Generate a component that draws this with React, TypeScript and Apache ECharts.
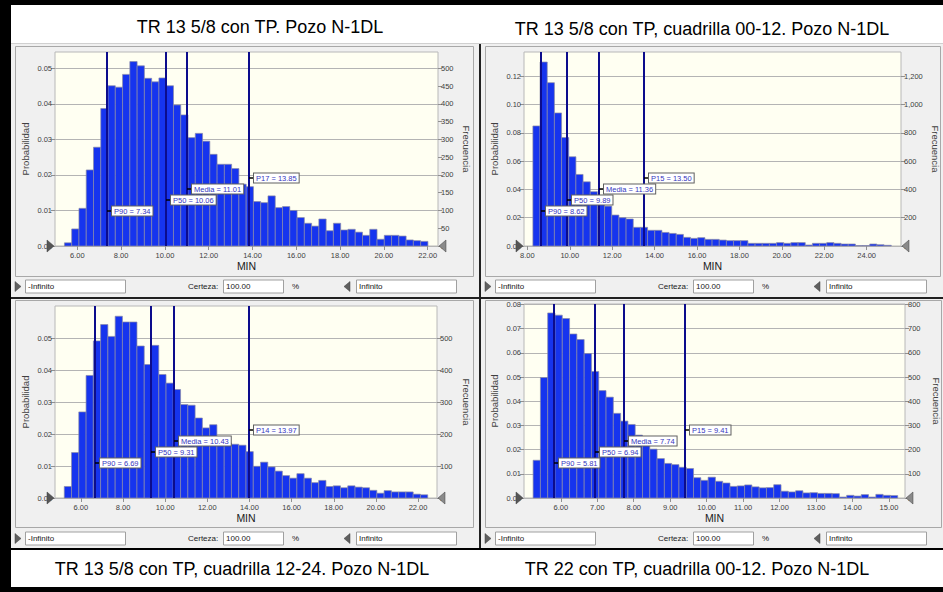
import React, { useEffect, useRef } from 'react';
import * as echarts from 'echarts';

const TRIALS = 10000;
const FONT = '"Liberation Sans", Arial, sans-serif';

const titles = [
  'TR 13 5/8 con TP. Pozo N-1DL',
  'TR 13 5/8 con TP, cuadrilla 00-12. Pozo N-1DL',
  'TR 13 5/8 con TP, cuadrilla 12-24. Pozo N-1DL',
  'TR 22 con TP, cuadrilla 00-12. Pozo N-1DL',
];

// Panel 1
const counts1 = [9, 48, 106, 214, 278, 387, 451, 447, 483, 519, 507, 472, 462, 473, 451, 397, 369, 305, 317, 295, 258, 230, 230, 218, 174, 167, 125, 122, 141, 108, 111, 100, 80, 64, 56, 76, 43, 64, 45, 47, 39, 30, 47, 19, 30, 30, 28, 17, 15, 13];
const binStart1 = 5.41;
const binWidth1 = 0.332;
const xRange1 = [4.98, 22.47];
const xTicks1 = [6, 8, 10, 12, 14, 16, 18, 20, 22];
const probTicks1 = [0, 0.01, 0.02, 0.03, 0.04, 0.05];
const freqTicks1 = [0, 50, 100, 150, 200, 250, 300, 350, 400, 450, 500];
const freqMax1 = 546;
const probStep1 = 0.01;
const markerNames1 = ['P90', 'P50', 'Media', 'P17'];
const markerValues1 = [7.34, 10.06, 11.01, 13.85];

// Panel 2
const counts2 = [849, 1301, 1155, 941, 767, 631, 506, 454, 384, 325, 282, 219, 200, 191, 132, 132, 111, 111, 96, 89, 82, 61, 54, 59, 47, 47, 42, 38, 38, 38, 19, 19, 19, 19, 24, 19, 24, 24, 7, 19, 19, 24, 19, 14, 14, 3, 3, 14, 9, 5];
const binStart2 = 8.26;
const binWidth2 = 0.338;
const xRange2 = [7.84, 25.62];
const xTicks2 = [8, 10, 12, 14, 16, 18, 20, 22, 24];
const probTicks2 = [0, 0.02, 0.04, 0.06, 0.08, 0.1, 0.12];
const freqTicks2 = [0, 200, 400, 600, 800, 1000, 1200];
const freqMax2 = 1372;
const probStep2 = 0.02;
const markerNames2 = ['P90', 'P50', 'Media', 'P15'];
const markerValues2 = [8.62, 9.89, 11.36, 13.5];

// Panel 3
const counts3 = [36, 142, 269, 383, 491, 542, 505, 568, 550, 550, 475, 417, 477, 386, 359, 339, 292, 290, 250, 219, 229, 190, 172, 168, 165, 145, 99, 112, 97, 84, 70, 62, 76, 62, 48, 55, 36, 38, 32, 38, 34, 32, 24, 15, 23, 19, 19, 19, 12, 10];
const binStart3 = 5.21;
const binWidth3 = 0.345;
const xRange3 = [4.77, 22.9];
const xTicks3 = [6, 8, 10, 12, 14, 16, 18, 20, 22];
const probTicks3 = [0, 0.01, 0.02, 0.03, 0.04, 0.05];
const freqTicks3 = [0, 100, 200, 300, 400, 500];
const freqMax3 = 600;
const probStep3 = 0.01;
const markerNames3 = ['P90', 'P50', 'Media', 'P14'];
const markerValues3 = [6.69, 9.31, 10.43, 13.97];

// Panel 4
const counts4 = [156, 498, 765, 756, 742, 678, 655, 597, 523, 444, 417, 350, 318, 304, 260, 233, 202, 163, 143, 138, 127, 122, 84, 73, 86, 69, 62, 48, 50, 54, 46, 42, 43, 55, 28, 25, 30, 21, 22, 19, 19, 18, 4, 11, 8, 14, 4, 15, 11, 10];
const binStart4 = 5.24;
const binWidth4 = 0.2;
const xRange4 = [4.99, 15.44];
const xTicks4 = [6, 7, 8, 9, 10, 11, 12, 13, 14, 15];
const probTicks4 = [0, 0.01, 0.02, 0.03, 0.04, 0.05, 0.06, 0.07, 0.08];
const freqTicks4 = [0, 100, 200, 300, 400, 500, 600, 700, 800];
const freqMax4 = 802;
const probStep4 = 0.01;
const markerNames4 = ['P90', 'P50', 'Media', 'P15'];
const markerValues4 = [5.81, 6.94, 7.74, 9.41];

const panels = [
  { counts: counts1, binStart: binStart1, binWidth: binWidth1, xRange: xRange1, xTicks: xTicks1, probTicks: probTicks1, freqTicks: freqTicks1, freqMax: freqMax1, probStep: probStep1, names: markerNames1, values: markerValues1 },
  { counts: counts2, binStart: binStart2, binWidth: binWidth2, xRange: xRange2, xTicks: xTicks2, probTicks: probTicks2, freqTicks: freqTicks2, freqMax: freqMax2, probStep: probStep2, names: markerNames2, values: markerValues2 },
  { counts: counts3, binStart: binStart3, binWidth: binWidth3, xRange: xRange3, xTicks: xTicks3, probTicks: probTicks3, freqTicks: freqTicks3, freqMax: freqMax3, probStep: probStep3, names: markerNames3, values: markerValues3 },
  { counts: counts4, binStart: binStart4, binWidth: binWidth4, xRange: xRange4, xTicks: xTicks4, probTicks: probTicks4, freqTicks: freqTicks4, freqMax: freqMax4, probStep: probStep4, names: markerNames4, values: markerValues4 },
];

// layout (pixels)
const layouts = [
  { left: 55, top: 52, width: 383, height: 194, gapL: 25, gapR: 23, titleX: 260, titleY: 27, dx: 0, cy: 286.5 },
  { left: 524, top: 52, width: 377, height: 194, gapL: 25, gapR: 29, titleX: 702, titleY: 29, dx: 470, cy: 286.5 },
  { left: 55, top: 306, width: 382, height: 192, gapL: 25, gapR: 24, titleX: 242, titleY: 569, dx: 0, cy: 538.5 },
  { left: 524, top: 304, width: 381, height: 194, gapL: 25, gapR: 26, titleX: 697, titleY: 569, dx: 470, cy: 538.5 },
];

const fmtThousands = (v: number) => String(Math.round(v)).replace(/\B(?=(\d{3})+(?!\d))/g, ',');

function buildGraphic() {
  const g: any[] = [];
  const rect = (x: number, y: number, w: number, h: number, fill: string, stroke?: string, z = -100) =>
    g.push({ type: 'rect', z, silent: true, shape: { x, y, width: w, height: h }, style: { fill, stroke: stroke || null, lineWidth: stroke ? 1 : 0 } });
  const text = (x: number, y: number, t: string, size: number, align = 'left', extra: any = {}) =>
    g.push({ type: 'text', z: 10, silent: true, x, y, style: { text: t, fontSize: size, fontFamily: FONT, fill: '#202020', align, verticalAlign: 'middle', ...extra } });
  const tri = (pts: number[][], fill: string, z = -50) =>
    g.push({ type: 'polygon', z, silent: true, shape: { points: pts }, style: { fill, stroke: '#404040', lineWidth: 0.5 } });

  rect(0, 0, 943, 592, '#ffffff');
  rect(0, 0, 11, 592, '#000000');
  rect(0, 0, 943, 5, '#000000');
  rect(0, 587, 943, 5, '#000000');
  // panels
  rect(11, 44, 468, 253, '#f0f0f0');
  rect(481, 44, 462, 253, '#f0f0f0');
  rect(11, 299, 468, 249, '#f0f0f0');
  rect(481, 299, 462, 249, '#f0f0f0');
  rect(11, 43, 932, 1, '#d0d0d0');
  rect(479, 44, 2, 505, '#202020');
  rect(11, 297, 932, 2, '#202020');
  rect(11, 548, 932, 2, '#000000');
  // chart boxes
  rect(15.5, 46.5, 458, 230, 'transparent', '#a8a8a8', -90);
  rect(485.5, 46.5, 455, 230, 'transparent', '#a8a8a8', -90);
  rect(15.5, 300.5, 458, 227, 'transparent', '#a8a8a8', -90);
  rect(485.5, 300.5, 456, 227, 'transparent', '#a8a8a8', -90);

  layouts.forEach((L, i) => {
    const { dx, cy } = L;
    tri([[dx + 15, cy - 5], [dx + 21, cy], [dx + 15, cy + 5]], '#606060');
    rect(dx + 25.5, cy - 6.5, 100, 13, '#ffffff', '#a0a0a0', -80);
    text(dx + 28, cy, '-Infinito', 8);
    text(dx + 188, cy, 'Certeza:', 8);
    rect(dx + 223.5, cy - 6.5, 60, 13, '#ffffff', '#a0a0a0', -80);
    text(dx + 226, cy, '100.00', 8);
    text(dx + 292, cy, '%', 8);
    tri([[dx + 350, cy - 5], [dx + 344, cy], [dx + 350, cy + 5]], '#606060');
    rect(dx + 356.5, cy - 6.5, 100, 13, '#ffffff', '#a0a0a0', -80);
    text(dx + 359, cy, 'Infinito', 8);

    // grabbers on plot baseline
    const B = L.top + L.height;
    const R = L.left + L.width;
    tri([[L.left - 8, B - 6], [L.left - 1, B], [L.left - 8, B + 6]], '#555555', 50);
    tri([[R + 8, B - 6], [R + 1, B], [R + 8, B + 6]], '#8a8a8a', 50);

    text(L.titleX, L.titleY, titles[i], 18, 'center', {
      fill: '#000000',
      shadowColor: 'rgba(0,0,0,0.45)',
      shadowBlur: 3,
      shadowOffsetX: 2,
      shadowOffsetY: 3,
    });
  });
  return g;
}

function buildOption() {
  const grid: any[] = [];
  const xAxis: any[] = [];
  const yAxis: any[] = [];
  const series: any[] = [];
  const labelStyle = { fontSize: 7.5, color: '#404040', fontFamily: FONT };
  const tickStyle = { color: '#909090', width: 1 };

  panels.forEach((p, i) => {
    const L = layouts[i];
    grid.push({
      left: L.left, top: L.top, width: L.width, height: L.height,
      show: true, backgroundColor: '#fffff2', borderColor: '#b8b8b8', borderWidth: 1,
      containLabel: false, outerBoundsMode: 'none',
    });
    xAxis.push({
      type: 'value', gridIndex: i, min: p.xRange[0], max: p.xRange[1],
      axisLine: { show: false }, splitLine: { show: false },
      axisTick: { show: true, customValues: p.xTicks, length: 4, lineStyle: tickStyle },
      axisLabel: { customValues: p.xTicks, formatter: (v: number) => Number(v).toFixed(2), margin: 5, ...labelStyle },
      name: 'MIN', nameLocation: 'middle', nameGap: 14,
      nameTextStyle: { fontSize: 10.5, color: '#202020', fontFamily: FONT },
    });
    yAxis.push({
      type: 'value', gridIndex: i, position: 'left', min: 0, max: p.freqMax / TRIALS, interval: p.probStep,
      axisLine: { show: false },
      axisTick: { show: true, customValues: p.probTicks, length: 4, lineStyle: tickStyle },
      axisLabel: { customValues: p.probTicks, formatter: (v: number) => Number(v).toFixed(2), margin: 3, ...labelStyle },
      splitLine: { show: true, lineStyle: { color: '#b4b4b4', width: 1 } },
      name: 'Probabilidad', nameLocation: 'middle', nameGap: L.gapL, nameRotate: 90,
      nameTextStyle: { fontSize: 9.5, color: '#404040', fontFamily: FONT },
    });
    yAxis.push({
      type: 'value', gridIndex: i, position: 'right', min: 0, max: p.freqMax,
      axisLine: { show: false }, splitLine: { show: false },
      axisTick: { show: true, customValues: p.freqTicks, length: 4, lineStyle: tickStyle },
      axisLabel: { customValues: p.freqTicks, formatter: (v: number) => fmtThousands(v), margin: 3, ...labelStyle },
      name: 'Frecuencia', nameLocation: 'middle', nameGap: L.gapR, nameRotate: -90,
      nameTextStyle: { fontSize: 9.5, color: '#404040', fontFamily: FONT },
    });

    const barData = p.counts.map((c, k) => [p.binStart + k * p.binWidth, p.binStart + (k + 1) * p.binWidth, c]);
    series.push({
      type: 'custom', xAxisIndex: i, yAxisIndex: 2 * i + 1, z: 3,
      encode: { x: [0, 1], y: 2 },
      data: barData,
      renderItem: (params: any, api: any) => {
        const a = api.coord([api.value(0), api.value(2)]);
        const b = api.coord([api.value(1), 0]);
        return {
          type: 'rect',
          shape: { x: a[0], y: a[1], width: b[0] - a[0], height: b[1] - a[1] },
          style: { fill: '#1634ee', stroke: '#8a8aa6', lineWidth: 0.7 },
        };
      },
    });

    const markerData = p.values.map((v) => [v, 0]);
    // vertical percentile lines
    series.push({
      type: 'custom', xAxisIndex: i, yAxisIndex: 2 * i + 1, z: 4,
      encode: { x: 0, y: 1 },
      data: markerData,
      renderItem: (params: any, api: any) => {
        const base = api.coord([api.value(0), 0]);
        const cs = params.coordSys;
        const x = Math.round(base[0]);
        return { type: 'line', shape: { x1: x, y1: cs.y, x2: x, y2: cs.y + cs.height }, style: { stroke: '#0c0c8c', lineWidth: 2 } };
      },
    });
    // percentile labels
    series.push({
      type: 'custom', xAxisIndex: i, yAxisIndex: 2 * i + 1, z: 6,
      encode: { x: 0, y: 1 },
      data: markerData,
      renderItem: (params: any, api: any) => {
        const j = params.dataIndex;
        const base = api.coord([api.value(0), 0]);
        const x = Math.round(base[0]);
        const ly = base[1] - (35 + 11 * j);
        const label = `${p.names[j]} = ${p.values[j].toFixed(2)}`;
        return {
          type: 'group',
          children: [
            { type: 'line', shape: { x1: x, y1: ly, x2: x + 5, y2: ly }, style: { stroke: '#000000', lineWidth: 1.5 } },
            {
              type: 'text', x: x + 5, y: ly,
              style: {
                text: label, fontSize: 7.5, fontFamily: FONT, fill: '#3636c0',
                align: 'left', verticalAlign: 'middle',
                backgroundColor: '#ffffff', borderColor: '#606060', borderWidth: 1, padding: [1, 2, 0, 2],
              },
            },
          ],
        };
      },
    });
  });

  return {
    animation: false,
    backgroundColor: '#ffffff',
    grid, xAxis, yAxis, series,
    graphic: { elements: buildGraphic() },
  };
}

export default function App() {
  const ref = useRef<HTMLDivElement>(null);
  useEffect(() => {
    const chart = echarts.init(ref.current as HTMLDivElement, null, { renderer: 'svg' });
    chart.setOption(buildOption() as any);
    return () => chart.dispose();
  }, []);
  return <div ref={ref} style={{ position: 'fixed', left: 0, top: 0, width: 943, height: 592 }} />;
}
